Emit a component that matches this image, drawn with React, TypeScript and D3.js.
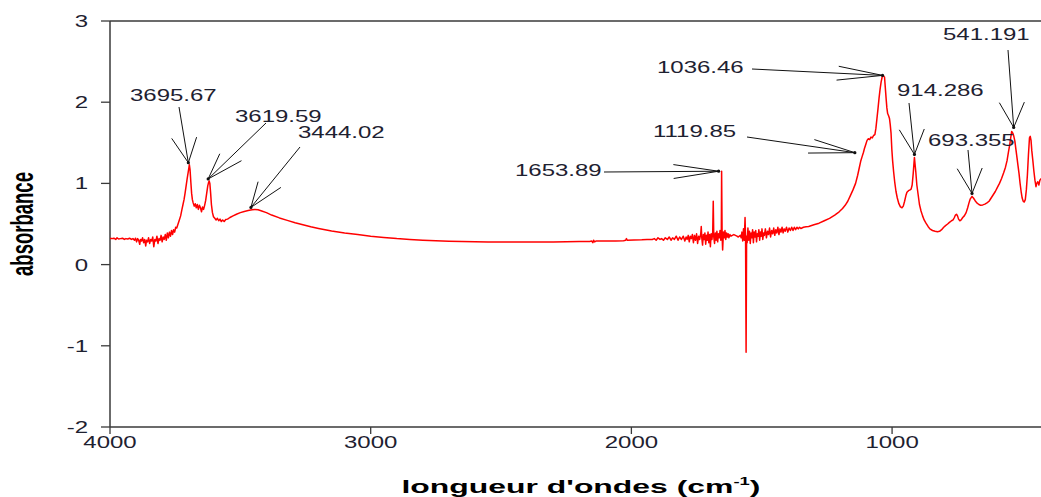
import React from "react";
import * as d3 from "d3";

// IR absorbance spectrum: [wavenumber (cm-1), absorbance]
const spectrum: [number, number][] = [
  [4000, 0.32], [3992, 0.32], [3985, 0.325], [3978, 0.31], [3973, 0.33], [3967, 0.315],
  [3960, 0.32], [3952, 0.325], [3945, 0.31], [3939, 0.32], [3932, 0.315], [3925, 0.325],
  [3918, 0.31], [3912, 0.32], [3906, 0.30], [3902, 0.325], [3898, 0.28], [3894, 0.32],
  [3890, 0.30], [3886, 0.25], [3883, 0.31], [3879, 0.29], [3875, 0.33], [3871, 0.27],
  [3867, 0.31], [3863, 0.23], [3860, 0.30], [3856, 0.28], [3852, 0.33], [3848, 0.26],
  [3844, 0.31], [3840, 0.29], [3836, 0.34], [3832, 0.22], [3828, 0.31], [3824, 0.29],
  [3820, 0.35], [3816, 0.26], [3812, 0.32], [3808, 0.30], [3804, 0.36], [3800, 0.28],
  [3796, 0.34], [3792, 0.31], [3788, 0.37], [3784, 0.30], [3780, 0.39], [3776, 0.33],
  [3772, 0.40], [3768, 0.35], [3764, 0.42], [3760, 0.37], [3756, 0.43], [3752, 0.40],
  [3748, 0.46], [3744, 0.45], [3739, 0.50], [3734, 0.55], [3729, 0.60], [3724, 0.68],
  [3720, 0.74], [3716, 0.80], [3712, 0.88], [3708, 0.97], [3704, 1.06], [3700, 1.14],
  [3697, 1.20], [3695.67, 1.23], [3693, 1.17], [3690, 1.02], [3687, 0.88], [3684, 0.80],
  [3681, 0.76], [3677, 0.72], [3673, 0.75], [3669, 0.70], [3665, 0.74], [3661, 0.68],
  [3657, 0.73], [3653, 0.70], [3649, 0.65], [3645, 0.71], [3641, 0.68], [3637, 0.73],
  [3633, 0.79], [3629, 0.88], [3625, 0.97], [3622, 1.01], [3619.59, 1.03], [3617, 1.00],
  [3614, 0.88], [3611, 0.74], [3607, 0.64], [3603, 0.59], [3598, 0.57], [3593, 0.55],
  [3588, 0.57], [3583, 0.54], [3578, 0.56], [3573, 0.53], [3568, 0.55], [3562, 0.53],
  [3556, 0.555], [3549, 0.56], [3540, 0.58], [3528, 0.60], [3515, 0.62], [3500, 0.64],
  [3485, 0.655], [3470, 0.665], [3455, 0.675], [3444.02, 0.68], [3432, 0.675], [3418, 0.66],
  [3400, 0.64], [3380, 0.61], [3350, 0.575], [3320, 0.545], [3290, 0.515], [3260, 0.49],
  [3230, 0.465], [3200, 0.445], [3150, 0.415], [3100, 0.39], [3050, 0.37], [3000, 0.35],
  [2950, 0.335], [2900, 0.32], [2850, 0.31], [2800, 0.30], [2750, 0.293], [2700, 0.288],
  [2650, 0.284], [2600, 0.281], [2550, 0.279], [2500, 0.278], [2450, 0.277], [2400, 0.277],
  [2350, 0.278], [2300, 0.279], [2250, 0.281], [2200, 0.283], [2160, 0.285], [2152, 0.29],
  [2148, 0.27], [2145, 0.30], [2141, 0.28], [2136, 0.29], [2100, 0.29], [2060, 0.292],
  [2030, 0.295], [2022, 0.30], [2019, 0.32], [2016, 0.30], [1990, 0.302], [1960, 0.305],
  [1940, 0.31], [1920, 0.31], [1912, 0.32], [1905, 0.30], [1898, 0.33], [1890, 0.31],
  [1884, 0.32], [1877, 0.30], [1870, 0.33], [1862, 0.31], [1855, 0.34], [1848, 0.30],
  [1842, 0.33], [1835, 0.31], [1828, 0.35], [1821, 0.30], [1815, 0.34], [1808, 0.31],
  [1801, 0.35], [1795, 0.29], [1790, 0.34], [1786, 0.31], [1782, 0.36], [1778, 0.28],
  [1774, 0.35], [1770, 0.32], [1766, 0.37], [1762, 0.27], [1758, 0.36], [1754, 0.30],
  [1750, 0.38], [1746, 0.26], [1742, 0.35], [1738, 0.31], [1734, 0.38], [1732, 0.47],
  [1730, 0.33], [1727, 0.24], [1724, 0.37], [1721, 0.31], [1718, 0.39], [1715, 0.25],
  [1712, 0.36], [1709, 0.30], [1706, 0.40], [1703, 0.27], [1700, 0.37], [1697, 0.22],
  [1694, 0.38], [1691, 0.31], [1688, 0.40], [1686, 0.78], [1684, 0.34], [1681, 0.26],
  [1678, 0.39], [1675, 0.30], [1672, 0.41], [1669, 0.28], [1666, 0.38], [1663, 0.33],
  [1660, 0.42], [1657, 0.30], [1655, 0.40], [1653.89, 1.15], [1652, 0.36], [1650, 0.18],
  [1647, 0.40], [1644, 0.33], [1641, 0.42], [1638, 0.31], [1635, 0.39], [1632, 0.34],
  [1629, 0.38], [1626, 0.33], [1622, 0.37], [1618, 0.35], [1613, 0.36], [1607, 0.37],
  [1601, 0.36], [1595, 0.35], [1590, 0.34], [1586, 0.35], [1582, 0.36], [1579, 0.33],
  [1576, 0.40], [1573, 0.29], [1570, 0.44], [1567, 0.30], [1564, 0.58], [1562, 0.32],
  [1560, -1.08], [1558, 0.35], [1556, 0.27], [1553, 0.45], [1550, 0.30], [1547, 0.41],
  [1544, 0.26], [1541, 0.39], [1538, 0.33], [1535, 0.43], [1532, 0.27], [1529, 0.40],
  [1526, 0.34], [1523, 0.42], [1520, 0.28], [1517, 0.38], [1514, 0.35], [1511, 0.43],
  [1508, 0.30], [1505, 0.40], [1502, 0.35], [1499, 0.44], [1496, 0.31], [1493, 0.39],
  [1490, 0.36], [1486, 0.44], [1482, 0.33], [1478, 0.41], [1474, 0.37], [1470, 0.45],
  [1466, 0.34], [1462, 0.42], [1458, 0.38], [1454, 0.45], [1450, 0.36], [1446, 0.43],
  [1442, 0.39], [1438, 0.46], [1434, 0.37], [1430, 0.44], [1426, 0.40], [1422, 0.46],
  [1418, 0.39], [1414, 0.44], [1410, 0.41], [1405, 0.46], [1400, 0.40], [1395, 0.45],
  [1390, 0.42], [1385, 0.46], [1380, 0.42], [1375, 0.46], [1370, 0.43], [1365, 0.46],
  [1360, 0.44], [1355, 0.46], [1350, 0.445], [1340, 0.46], [1330, 0.465], [1320, 0.47],
  [1300, 0.49], [1280, 0.51], [1260, 0.54], [1240, 0.57], [1220, 0.61], [1203, 0.65],
  [1190, 0.69], [1180, 0.73], [1170, 0.78], [1160, 0.85], [1150, 0.92], [1140, 1.00],
  [1132, 1.10], [1126, 1.19], [1119.85, 1.28], [1115, 1.33], [1110, 1.38], [1106, 1.43],
  [1101, 1.48], [1096, 1.53], [1091, 1.55], [1086, 1.54], [1081, 1.57], [1076, 1.56],
  [1071, 1.59], [1066, 1.60], [1062, 1.68], [1058, 1.80], [1054, 1.92], [1050, 2.05],
  [1046, 2.16], [1042, 2.25], [1038, 2.31], [1036.46, 2.33], [1033, 2.32], [1029, 2.31],
  [1026, 2.18], [1023, 2.05], [1020, 1.93], [1017, 1.86], [1013, 1.83], [1010, 1.80],
  [1007, 1.72], [1004, 1.62], [1001, 1.42], [998, 1.28], [994, 1.14], [990, 1.02],
  [985, 0.90], [980, 0.82], [974, 0.75], [968, 0.71], [962, 0.70], [957, 0.72],
  [952, 0.78], [947, 0.85], [943, 0.89], [937, 0.91], [931, 0.92], [927, 0.93],
  [923, 0.98], [919, 1.12], [916, 1.25], [914.286, 1.32], [912, 1.24], [909, 1.14],
  [905, 0.98], [900, 0.86], [895, 0.74], [889, 0.66], [883, 0.60], [877, 0.55],
  [870, 0.51], [862, 0.47], [855, 0.44], [845, 0.42], [835, 0.41], [826, 0.405],
  [818, 0.41], [810, 0.43], [802, 0.46], [795, 0.48], [787, 0.50], [780, 0.52],
  [772, 0.54], [766, 0.55], [761, 0.58], [757, 0.61], [753, 0.62], [749, 0.60],
  [745, 0.56], [740, 0.54], [735, 0.55], [729, 0.58], [723, 0.60], [716, 0.64],
  [710, 0.70], [705, 0.76], [700, 0.81], [693.355, 0.84], [688, 0.82], [682, 0.79],
  [675, 0.76], [667, 0.74], [660, 0.73], [652, 0.735], [644, 0.745], [636, 0.76],
  [628, 0.78], [620, 0.82], [612, 0.86], [604, 0.90], [596, 0.95], [588, 1.00],
  [580, 1.06], [572, 1.13], [565, 1.20], [559, 1.28], [554, 1.38], [549, 1.47],
  [545, 1.56], [541.191, 1.64], [537, 1.62], [533, 1.58], [529, 1.52], [525, 1.42],
  [521, 1.32], [517, 1.22], [513, 1.12], [509, 1.00], [505, 0.90], [501, 0.82],
  [497, 0.78], [493, 0.77], [489, 0.80], [485, 0.92], [481, 1.10], [477, 1.35],
  [473, 1.56], [470, 1.58], [467, 1.53], [464, 1.40], [460, 1.28], [456, 1.15],
  [452, 1.04], [448, 0.96], [445, 1.00], [441, 1.02], [437, 0.98], [433, 1.04],
  [425, 1.07], [415, 1.09], [400, 1.10],
];

// Labelled band positions (cm-1)
const peakLabels = [3695.67, 3619.59, 3444.02, 1653.89, 1119.85, 1036.46, 914.286, 693.355, 541.191];

const xTicks = [4000, 3000, 2000, 1000];
const yTicks = [-2, -1, 0, 1, 2, 3];

// Placement of each peak label: text origin, start of the pointer line, tip nudge
const labelLayout: { text: [number, number]; tail: [number, number]; nudge: [number, number] }[] = [
  { text: [130, 101], tail: [179, 107], nudge: [-1, -2] },
  { text: [235, 122], tail: [266, 123], nudge: [-1, -2] },
  { text: [298, 138], tail: [300, 147], nudge: [-4, -2] },
  { text: [515, 176], tail: [604, 172], nudge: [-3, 0] },
  { text: [653, 137], tail: [747, 137], nudge: [-6, -8] },
  { text: [657, 73], tail: [752, 69], nudge: [0, 0] },
  { text: [897, 96], tail: [909, 103], nudge: [0, -3] },
  { text: [928, 146], tail: [968, 150], nudge: [0, -3] },
  { text: [943, 40], tail: [1008, 50], nudge: [2, -4] },
];

const W = 1041;
const H = 497;
const FONT = "'Liberation Sans', Arial, Helvetica, sans-serif";
const STRETCH = 1.5;

const x = d3.scaleLinear().domain([4000, 400]).range([110, 1048.5]);
const y = d3.scaleLinear().domain([-2, 3]).range([427, 21]);

const line = d3
  .line<[number, number]>()
  .x((d) => x(d[0]))
  .y((d) => y(d[1]));

// Two open barbs at the pointer tip, shaped in a horizontally squeezed frame
function barbs(tip: [number, number], tail: [number, number]) {
  const K = 1.8;
  const L = 26;
  const a = (15.5 * Math.PI) / 180;
  const dx = (tail[0] - tip[0]) / K;
  const dy = tail[1] - tip[1];
  const len = Math.hypot(dx, dy);
  const ux = dx / len;
  const uy = dy / len;
  return [a, -a].map((t) => {
    const rx = ux * Math.cos(t) - uy * Math.sin(t);
    const ry = ux * Math.sin(t) + uy * Math.cos(t);
    return [tip[0] + rx * L * K, tip[1] + ry * L] as [number, number];
  });
}

function valueAt(w: number) {
  let best = spectrum[0];
  for (const p of spectrum) if (Math.abs(p[0] - w) < Math.abs(best[0] - w)) best = p;
  return best[1];
}

export default function App() {
  const axisColor = "#3a3a3a";
  const textColor = "#1e2130";
  return (
    <svg
      width={W}
      height={H}
      style={{ position: "absolute", left: 0, top: 0, display: "block", background: "#fff" }}
      fontFamily={FONT}
    >
      <defs>
        <clipPath id="plot-clip">
          <rect x={110} y={0} width={W - 110} height={H} />
        </clipPath>
      </defs>

      {/* frame */}
      <line x1={110} x2={W} y1={y(3)} y2={y(3)} stroke={axisColor} strokeWidth={1.3} />
      <line x1={110} x2={W} y1={y(-2)} y2={y(-2)} stroke={axisColor} strokeWidth={1.5} />
      <line x1={110} x2={110} y1={y(3)} y2={y(-2)} stroke={axisColor} strokeWidth={1.5} />

      {/* y axis */}
      {yTicks.map((t) => (
        <g key={`y${t}`}>
          <line x1={101} x2={110} y1={y(t)} y2={y(t)} stroke={axisColor} strokeWidth={1.3} />
          <text
            transform={`translate(88,${y(t) + 6}) scale(${STRETCH},1)`}
            textAnchor="end"
            fontSize={16}
            fill={textColor}
          >
            {t}
          </text>
        </g>
      ))}

      {/* x axis */}
      {xTicks.map((t) => (
        <g key={`x${t}`}>
          <line x1={x(t)} x2={x(t)} y1={y(-2)} y2={y(-2) + 7} stroke={axisColor} strokeWidth={1.3} />
          <text
            transform={`translate(${x(t)},448) scale(${STRETCH},1)`}
            textAnchor="middle"
            fontSize={16}
            fill={textColor}
          >
            {t}
          </text>
        </g>
      ))}

      {/* axis titles */}
      <text
        transform={`translate(33,224) scale(1.7,1) rotate(-90)`}
        textAnchor="middle"
        fontSize={18.5}
        fontWeight="bold"
        fill="#000"
      >
        absorbance
      </text>
      <text
        transform={`translate(581,493) scale(1.68,1)`}
        textAnchor="middle"
        fontSize={19}
        fontWeight="bold"
        fill="#000"
      >
        longueur d'ondes (cm
        <tspan fontSize={11} dy={-8}>-1</tspan>
        <tspan dy={8}>)</tspan>
      </text>

      {/* spectrum */}
      <path
        d={line(spectrum) || ""}
        fill="none"
        stroke="#ff0000"
        strokeWidth={1.5}
        strokeLinejoin="round"
        clipPath="url(#plot-clip)"
      />

      {/* peak labels with pointers */}
      {peakLabels.map((w, i) => {
        const lay = labelLayout[i];
        const tip: [number, number] = [x(w) + lay.nudge[0], y(valueAt(w)) + lay.nudge[1]];
        const [b1, b2] = barbs(tip, lay.tail);
        return (
          <g key={`p${w}`}>
            <line x1={lay.tail[0]} y1={lay.tail[1]} x2={tip[0]} y2={tip[1]} stroke="#111" strokeWidth={1} />
            <line x1={b1[0]} y1={b1[1]} x2={tip[0]} y2={tip[1]} stroke="#111" strokeWidth={1} />
            <line x1={b2[0]} y1={b2[1]} x2={tip[0]} y2={tip[1]} stroke="#111" strokeWidth={1} />
            <circle cx={tip[0]} cy={tip[1]} r={1.6} fill="#111" />
            <text
              transform={`translate(${lay.text[0]},${lay.text[1]}) scale(${STRETCH},1)`}
              fontSize={16}
              fill={textColor}
            >
              {String(w)}
            </text>
          </g>
        );
      })}
    </svg>
  );
}
